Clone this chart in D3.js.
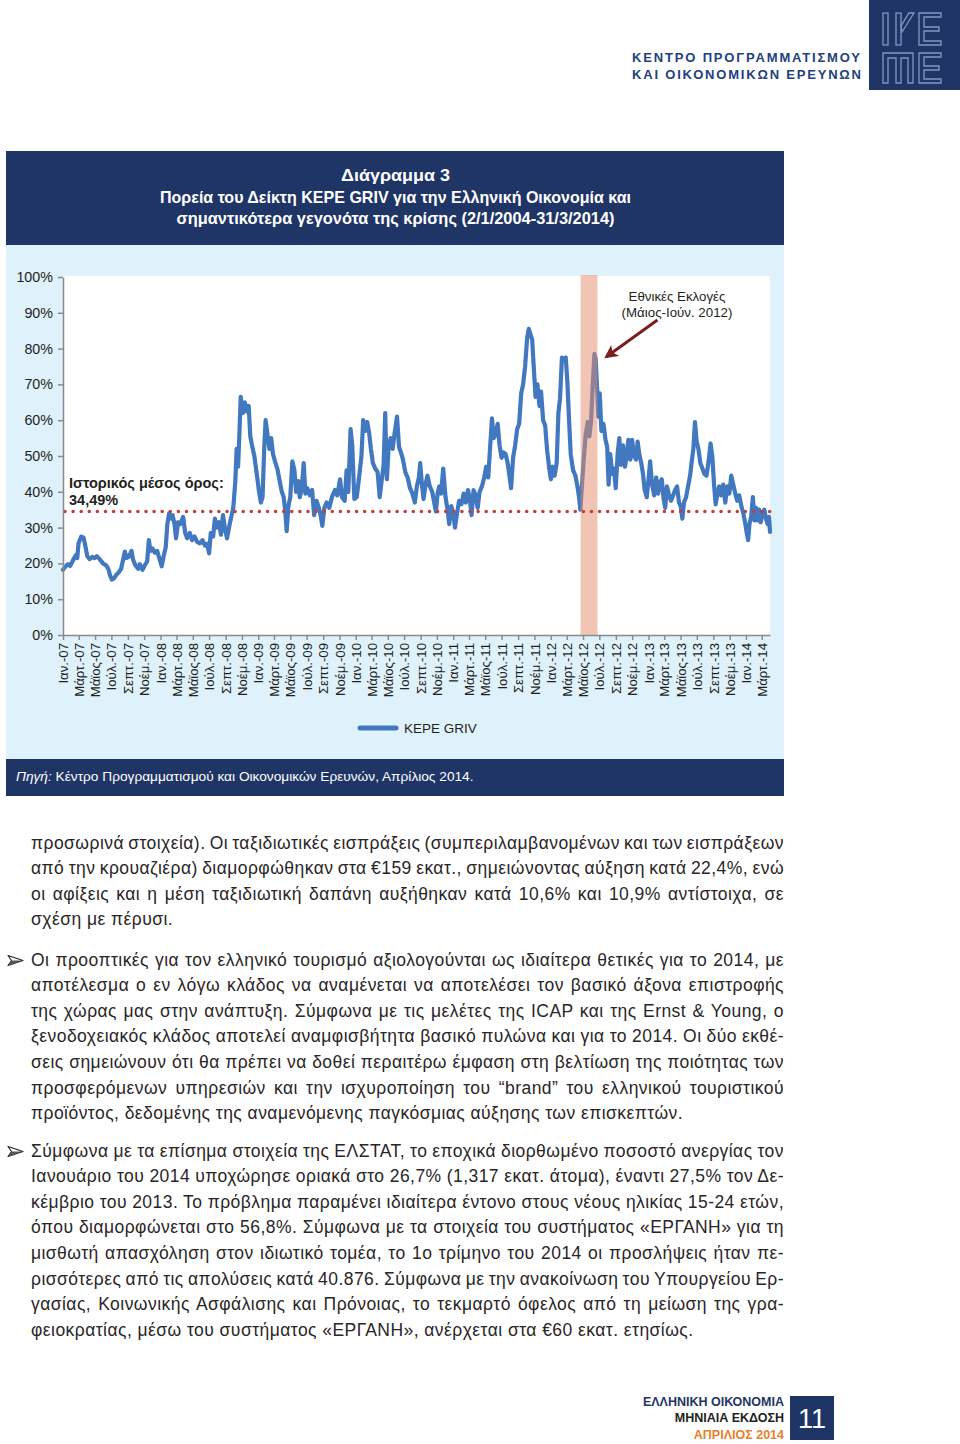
<!DOCTYPE html>
<html><head><meta charset="utf-8">
<script src="https://cdn.jsdelivr.net/npm/d3@7"></script>
<style>
body{margin:0;background:#fff}
svg{display:block}
text{font-family:"Liberation Sans",Arial,Helvetica,sans-serif}
</style>
</head><body>
<svg id="page" width="960" height="1444"></svg>
<script>
// ---------------- DATA ----------------
const seriesName = "KEPE GRIV";
const historicalMean = 34.49;
const yTicks = [0,10,20,30,40,50,60,70,80,90,100];
const monthNames = ["Ιαν.","Μάρτ.","Μάϊος","Ιούλ.","Σεπτ.","Νοέμ."];
const tickYears = ["07","08","09","10","11","12","13","14"];
const electionBand = ["2012-04-22","2012-06-24"];
// [months since 1 Jan 2007, index value %]
const grivSeries = [
[0.0,18.2],[0.25,19.0],[0.6,19.8],[0.86,19.3],[1.27,21.0],[1.6,22.3],[1.8,21.5],[1.97,25.6],[2.3,27.5],[2.58,27.2],[2.83,24.5],[3.03,22.0],[3.32,21.2],[3.65,21.8],[3.94,21.5],[4.22,22.0],[4.55,21.2],[4.96,20.0],[5.37,19.4],[5.62,18.5],[5.86,16.5],[6.07,15.5],[6.31,15.8],[6.6,16.8],[6.89,17.5],[7.18,18.5],[7.42,21.0],[7.63,23.3],[7.83,21.5],[8.12,21.9],[8.45,23.5],[8.65,21.0],[8.94,19.5],[9.27,18.5],[9.47,19.8],[9.8,18.2],[10.09,19.6],[10.37,20.5],[10.58,26.5],[10.78,23.5],[11.03,24.2],[11.32,23.0],[11.6,23.5],[11.85,21.5],[12.14,19.2],[12.38,22.0],[12.63,24.5],[12.83,31.0],[13.04,34.0],[13.28,32.5],[13.49,33.5],[13.74,31.0],[13.94,27.0],[14.19,31.5],[14.47,31.0],[14.8,33.0],[15.05,28.5],[15.29,27.0],[15.62,28.5],[15.91,26.5],[16.2,27.5],[16.52,26.0],[16.85,25.6],[17.18,26.5],[17.47,25.0],[17.75,25.5],[18.0,22.8],[18.2,28.5],[18.49,27.5],[18.7,32.5],[18.9,30.0],[19.19,31.5],[19.43,28.0],[19.68,33.5],[19.93,29.5],[20.17,27.0],[20.46,30.5],[20.7,33.0],[20.95,35.5],[21.2,43.0],[21.36,52.0],[21.53,47.0],[21.69,56.0],[21.85,66.5],[22.1,62.0],[22.35,65.0],[22.59,62.5],[22.84,64.0],[23.04,55.5],[23.29,52.5],[23.53,50.0],[23.82,45.0],[24.07,40.5],[24.31,37.0],[24.52,38.5],[24.72,52.0],[24.89,60.0],[25.13,56.0],[25.38,52.0],[25.62,55.0],[25.87,50.5],[26.12,48.5],[26.4,46.5],[26.69,43.0],[26.94,40.0],[27.18,38.5],[27.39,34.0],[27.55,29.0],[27.76,36.0],[28.0,38.5],[28.25,48.5],[28.5,46.0],[28.7,40.0],[28.95,43.0],[29.15,38.5],[29.4,41.0],[29.64,48.0],[29.85,39.5],[30.09,41.0],[30.38,39.0],[30.67,40.5],[30.91,33.5],[31.2,37.5],[31.49,35.5],[31.73,33.0],[31.9,30.5],[32.15,35.5],[32.43,37.0],
[32.76,35.5],[33.09,38.5],[33.46,40.5],[33.74,39.0],[34.07,43.5],[34.32,38.5],[34.65,37.5],[34.89,46.0],[35.1,40.0],[35.38,57.5],[35.59,52.5],[35.83,38.0],[36.12,38.5],[36.45,45.0],[36.69,50.0],[36.9,60.0],[37.18,57.0],[37.43,59.5],[37.68,56.5],[37.92,52.0],[38.17,48.0],[38.45,46.5],[38.74,45.5],[38.99,38.5],[39.23,43.0],[39.48,47.5],[39.68,62.0],[39.89,43.5],[40.09,52.0],[40.34,55.0],[40.59,52.0],[40.83,56.5],[41.12,61.0],[41.37,52.5],[41.61,51.0],[41.86,49.0],[42.15,45.5],[42.43,44.0],[42.72,41.0],[43.01,39.5],[43.3,37.0],[43.54,41.5],[43.79,44.0],[43.95,48.0],[44.16,42.0],[44.36,38.0],[44.61,42.0],[44.85,44.5],[45.14,41.5],[45.43,40.0],[45.71,36.5],[45.88,34.5],[46.08,39.5],[46.29,41.5],[46.53,39.5],[46.78,46.5],[47.07,38.5],[47.31,35.0],[47.52,31.0],[47.76,36.0],[48.01,34.0],[48.21,30.0],[48.46,34.0],[48.71,37.5],[48.99,36.5],[49.28,39.5],[49.57,37.0],[49.86,40.5],[50.1,38.0],[50.31,33.5],[50.55,40.5],[50.8,39.0],[51.05,35.5],[51.29,40.0],[51.58,41.5],[51.87,44.0],[52.11,47.0],[52.36,44.0],[52.6,53.0],[52.81,60.5],[53.01,55.0],[53.26,56.0],[53.51,59.0],[53.75,53.0],[54.0,49.5],[54.24,51.0],[54.49,50.5],[54.74,48.0],[54.98,44.0],[55.15,41.0],[55.39,49.5],[55.64,53.0],[55.88,57.5],[56.13,59.0],[56.38,67.5],[56.62,70.0],[56.87,75.0],[57.12,83.0],[57.32,85.5],[57.52,84.0],[57.73,82.5],[57.89,76.0],[58.14,66.5],[58.38,70.0],[58.63,64.0],[58.83,68.0],[59.08,60.0],[59.33,58.5],[59.57,51.5],[59.82,46.5],[60.02,43.5],[60.23,47.0],[60.47,44.5],[60.72,48.0],[60.93,62.0],
[61.13,66.0],[61.38,77.5],[61.62,77.0],[61.87,77.5],[62.07,71.0],[62.28,60.0],[62.48,50.5],[62.77,46.0],[63.05,44.5],[63.34,41.0],[63.5,38.5],[63.67,35.0],[63.87,42.0],[64.08,49.0],[64.32,56.0],[64.57,59.5],[64.77,55.5],[64.98,60.0],[65.19,70.5],[65.39,78.5],[65.55,77.0],[65.72,69.0],[65.88,61.0],[66.05,67.5],[66.25,57.0],[66.5,59.0],[66.75,54.5],[66.95,52.5],[67.12,42.0],[67.32,50.5],[67.57,45.0],[67.77,46.5],[67.98,41.0],[68.23,51.0],[68.43,55.0],[68.63,47.5],[68.88,53.0],[69.13,47.0],[69.33,50.0],[69.54,54.5],[69.78,49.0],[69.99,54.5],[70.23,50.0],[70.48,49.0],[70.68,54.0],[70.89,50.5],[71.13,48.0],[71.34,45.0],[71.54,40.5],[71.79,38.5],[71.99,43.0],[72.2,48.5],[72.44,42.0],[72.69,39.0],[72.94,44.0],[73.18,39.5],[73.43,42.5],[73.67,43.5],[73.92,38.0],[74.12,35.5],[74.33,41.5],[74.58,39.0],[74.82,37.5],[75.07,39.0],[75.32,40.5],[75.57,41.5],[75.81,37.0],[76.02,36.0],[76.22,32.5],[76.42,37.0],[76.67,38.5],[76.91,41.5],[77.16,44.5],[77.37,48.5],[77.57,52.0],[77.77,59.5],[77.98,54.0],[78.19,52.0],[78.43,48.0],[78.68,46.5],[78.92,45.0],[79.17,44.5],[79.42,48.5],[79.66,53.5],[79.87,50.0],[80.07,42.5],[80.28,36.5],[80.48,39.0],[80.73,41.5],[80.97,39.0],[81.22,42.0],[81.47,37.0],[81.71,41.5],[81.96,39.5],[82.2,44.5],[82.45,42.0],[82.7,39.5],[82.94,37.5],[83.19,39.0],[83.44,36.0],[83.68,34.0],[83.89,31.5],[84.09,28.5],[84.26,26.5],[84.42,31.0],[84.63,33.0],[84.83,38.5],[85.04,32.0],[85.24,35.5],[85.45,32.0],[85.65,35.0],[85.86,31.5],[86.06,33.5],[86.31,35.0],[86.51,32.5],[86.72,31.0],[86.88,33.0],[87.0,28.8]
];

const titleLines = ["Διάγραμμα 3","Πορεία του Δείκτη ΚΕΡΕ GRIV για την Ελληνική Οικονομία και","σημαντικότερα γεγονότα της κρίσης (2/1/2004-31/3/2014)"];
const meanLabel = ["Ιστορικός μέσος όρος:","34,49%"];
const electionLabel = ["Εθνικές Εκλογές","(Μάιος-Ιούν. 2012)"];
const bodyParagraphs = [
 {bullet:false, lines:[
  "προσωρινά στοιχεία). Οι ταξιδιωτικές εισπράξεις (συμπεριλαμβανομένων και των εισπράξεων",
  "από την κρουαζιέρα) διαμορφώθηκαν στα €159 εκατ., σημειώνοντας αύξηση κατά 22,4%, ενώ",
  "οι αφίξεις και η μέση ταξιδιωτική δαπάνη αυξήθηκαν κατά 10,6% και 10,9% αντίστοιχα, σε",
  "σχέση με πέρυσι."]},
 {bullet:true, lines:[
  "Οι προοπτικές για τον ελληνικό τουρισμό αξιολογούνται ως ιδιαίτερα θετικές για το 2014, με",
  "αποτέλεσμα ο εν λόγω κλάδος να αναμένεται να αποτελέσει τον βασικό άξονα επιστροφής",
  "της χώρας μας στην ανάπτυξη. Σύμφωνα με τις μελέτες της ICAP και της Ernst & Young, ο",
  "ξενοδοχειακός κλάδος αποτελεί αναμφισβήτητα βασικό πυλώνα και για το 2014. Οι δύο εκθέ-",
  "σεις σημειώνουν ότι θα πρέπει να δοθεί περαιτέρω έμφαση στη βελτίωση της ποιότητας των",
  "προσφερόμενων υπηρεσιών και την ισχυροποίηση του “brand” του ελληνικού τουριστικού",
  "προϊόντος, δεδομένης της αναμενόμενης παγκόσμιας αύξησης των επισκεπτών."]},
 {bullet:true, lines:[
  "Σύμφωνα με τα επίσημα στοιχεία της ΕΛΣΤΑΤ, το εποχικά διορθωμένο ποσοστό ανεργίας τον",
  "Ιανουάριο του 2014 υποχώρησε οριακά στο 26,7% (1,317 εκατ. άτομα), έναντι 27,5% τον Δε-",
  "κέμβριο του 2013. Το πρόβλημα παραμένει ιδιαίτερα έντονο στους νέους ηλικίας 15-24 ετών,",
  "όπου διαμορφώνεται στο 56,8%. Σύμφωνα με τα στοιχεία του συστήματος «ΕΡΓΑΝΗ» για τη",
  "μισθωτή απασχόληση στον ιδιωτικό τομέα, το 1ο τρίμηνο του 2014 οι προσλήψεις ήταν πε-",
  "ρισσότερες από τις απολύσεις κατά 40.876. Σύμφωνα με την ανακοίνωση του Υπουργείου Ερ-",
  "γασίας, Κοινωνικής Ασφάλισης και Πρόνοιας, το τεκμαρτό όφελος από τη μείωση της γρα-",
  "φειοκρατίας, μέσω του συστήματος «ΕΡΓΑΝΗ», ανέρχεται στα €60 εκατ. ετησίως."]}
];

// ---------------- STYLE ----------------
const NAVY = "#1f3566", LIGHT = "#dff1fb", LINE = "#4178c0", TXT = "#231f20";

const svg = d3.select("#page");
svg.append("rect").attr("width",960).attr("height",1444).attr("fill","#fff");

// ---------- header ----------
const hdr = svg.append("g");
hdr.append("text").attr("x",632).attr("y",62).attr("fill","#234080").attr("font-weight","bold")
  .attr("font-size",13).attr("textLength",228).attr("lengthAdjust","spacing").text("ΚΕΝΤΡΟ ΠΡΟΓΡΑΜΜΑΤΙΣΜΟΥ");
hdr.append("text").attr("x",632).attr("y",79).attr("fill","#234080").attr("font-weight","bold")
  .attr("font-size",13).attr("textLength",229).attr("lengthAdjust","spacing").text("ΚΑΙ ΟΙΚΟΝΟΜΙΚΩΝ ΕΡΕΥΝΩΝ");
const logo = hdr.append("g").attr("transform","translate(869,0)");
logo.append("rect").attr("width",91).attr("height",90).attr("fill",NAVY);
const lg = logo.append("g").attr("fill","none").attr("stroke","#8496c4").attr("stroke-width",1.3);
lg.append("rect").attr("x",14).attr("y",13).attr("width",5).attr("height",32);
lg.append("rect").attr("x",27).attr("y",13).attr("width",5).attr("height",32);
lg.append("path").attr("d","M40,13 L45,13 L33,32 L32,26 Z");
lg.append("path").attr("d","M50,13 H72 V17 H55 V27 H70 V31 H55 V41 H72 V45 H50 Z");
lg.append("path").attr("d","M14,53 H44 V83 H39 V58 H32 V83 H27 V58 H19 V83 H14 Z");
lg.append("path").attr("d","M50,53 H72 V57 H55 V66 H70 V70 H55 V79 H72 V83 H50 Z");

// ---------- title box ----------
svg.append("rect").attr("x",6).attr("y",151).attr("width",778).attr("height",94).attr("fill",NAVY);
const tl = [[titleLines[0],181,109],[titleLines[1],202.5,471],[titleLines[2],223.5,438]];
tl.forEach(([t,y,w])=>{
  svg.append("text").attr("x",395.5).attr("y",y).attr("text-anchor","middle").attr("fill","#fff")
    .attr("font-weight","bold").attr("font-size",16.2).attr("textLength",w).attr("lengthAdjust","spacingAndGlyphs").text(t);
});

// ---------- chart panel ----------
svg.append("rect").attr("x",6).attr("y",245).attr("width",778).attr("height",514).attr("fill",LIGHT);

const x0 = 63, x1 = 770, yTop = 277, yBot = 635;
const monthToDate = m => { const fm = Math.floor(m); const d0 = new Date(2007, fm, 1), d1 = new Date(2007, fm+1, 1); return new Date(+d0 + (m-fm)*(d1-d0)); };
const x = d3.scaleTime().domain([new Date(2007,0,1), new Date(2014,3,1)]).range([x0,x1]);
const y = d3.scaleLinear().domain([0,100]).range([yBot,yTop]);

svg.append("rect").attr("x",x0).attr("y",yTop-1).attr("width",x1-x0).attr("height",yBot-yTop+1).attr("fill","#fff");

const data = grivSeries.map(([m,v])=>({date:monthToDate(m), v}));
svg.append("path").datum(data).attr("fill","none").attr("stroke",LINE).attr("stroke-width",4.2)
  .attr("stroke-linejoin","round").attr("stroke-linecap","round")
  .attr("d", d3.line().x(d=>x(d.date)).y(d=>y(d.v)));

const pd = d3.timeParse("%Y-%m-%d");
svg.append("rect").attr("x",x(pd(electionBand[0]))).attr("y",yTop-2)
  .attr("width",x(pd(electionBand[1]))-x(pd(electionBand[0]))).attr("height",yBot-yTop+2)
  .attr("fill","#e5896a").attr("opacity",0.5);

svg.append("line").attr("x1",x0+2).attr("x2",x1).attr("y1",y(historicalMean)).attr("y2",y(historicalMean))
  .attr("stroke","#c0403c").attr("stroke-width",3.6).attr("stroke-linecap","round").attr("stroke-dasharray","0 8.1");

const yAxis = d3.axisLeft(y).tickValues(yTicks).tickFormat(d=>d+"%").tickSize(5).tickSizeOuter(0).tickPadding(5);
const gy = svg.append("g").attr("transform",`translate(${x0},0)`).call(yAxis);
gy.selectAll("path,line").attr("stroke","#8a8a8a").attr("stroke-width",1.5);
gy.selectAll("text").attr("font-size",14.3).attr("fill",TXT).attr("font-family","Liberation Sans, Arial, sans-serif");

const tickDates = [], tickLabels = [];
tickYears.forEach((yy,i)=>{ monthNames.forEach((mn,j)=>{ const d = new Date(2007+i, j*2, 1); if (d <= new Date(2014,2,1)) { tickDates.push(d); tickLabels.push(mn+"-"+yy); } }); });
const xAxis = d3.axisBottom(x).tickValues(tickDates).tickFormat((d,i)=>tickLabels[i]).tickSize(5).tickSizeOuter(0);
const gx = svg.append("g").attr("transform",`translate(0,${yBot})`).call(xAxis);
gx.selectAll("path,line").attr("stroke","#8a8a8a").attr("stroke-width",1.5);
gx.selectAll("text").attr("font-size",13.2).attr("fill",TXT).attr("font-family","Liberation Sans, Arial, sans-serif")
  .attr("transform","rotate(-90)").attr("x",-8).attr("y",0).attr("dy","0.35em").attr("text-anchor","end");

svg.append("text").attr("x",69).attr("y",488).attr("font-weight","bold").attr("font-size",14.5).attr("fill",TXT).text(meanLabel[0]);
svg.append("text").attr("x",69).attr("y",505).attr("font-weight","bold").attr("font-size",14.5).attr("fill",TXT).text(meanLabel[1]);

const peak = data.filter(d=>d.date>=pd(electionBand[0]) && d.date<=pd(electionBand[1])).reduce((a,b)=>b.v>a.v?b:a);
const tip = [x(peak.date)+9, y(peak.v)+5];
const tail = [tip[0]+54, tip[1]-39];
svg.append("defs").append("marker").attr("id","ah").attr("viewBox","0 0 10 10").attr("refX",8).attr("refY",5)
  .attr("markerWidth",4.5).attr("markerHeight",4.5).attr("orient","auto-start-reverse")
  .append("path").attr("d","M0,0 L10,5 L0,10 L2.5,5 Z").attr("fill","#7a1e1e");
svg.append("line").attr("x1",tail[0]).attr("y1",tail[1]).attr("x2",tip[0]+3).attr("y2",tip[1]-2.2)
  .attr("stroke","#7a1e1e").attr("stroke-width",3).attr("marker-end","url(#ah)");
svg.append("text").attr("x",677).attr("y",300.5).attr("text-anchor","middle").attr("font-size",13.3).attr("fill",TXT).text(electionLabel[0]);
svg.append("text").attr("x",677).attr("y",316.5).attr("text-anchor","middle").attr("font-size",13.3).attr("fill",TXT).text(electionLabel[1]);

svg.append("line").attr("x1",360).attr("x2",396).attr("y1",728).attr("y2",728).attr("stroke",LINE).attr("stroke-width",5).attr("stroke-linecap","round");
svg.append("text").attr("x",404).attr("y",733).attr("font-size",13.5).attr("fill",TXT).text(seriesName);

svg.append("rect").attr("x",6).attr("y",759).attr("width",778).attr("height",37).attr("fill",NAVY);
const src = svg.append("text").attr("x",16).attr("y",781).attr("font-size",13.7).attr("fill","#fff");
src.append("tspan").attr("font-style","italic").text("Πηγή:");
src.append("tspan").text(" Κέντρο Προγραμματισμού και Οικονομικών Ερευνών, Απρίλιος 2014.");

// ---------- body text ----------
const starts = [848.5, 965.5, 1156.5], lh = 25.65, left = 31, right = 784;
bodyParagraphs.forEach((p,pi)=>{
  if (p.bullet) {
    const by = starts[pi]-5;
    svg.append("path").attr("d",`M8,${by-5} L23,${by} L8,${by+5} L11.5,${by} Z`)
      .attr("fill","#fff").attr("stroke","#231f20").attr("stroke-width",1.1).attr("stroke-linejoin","round");
    svg.append("path").attr("d",`M11.5,${by} L23,${by} L8,${by+5} Z`).attr("fill","#555");
  }
  p.lines.forEach((ln,li)=>{
    const t = svg.append("text").attr("x",left).attr("y",starts[pi]+li*lh).attr("font-size",17.5)
      .attr("letter-spacing","0.45px").attr("fill","#2a2627").text(ln);
    if (li < p.lines.length-1) {
      const n = (ln.match(/ /g)||[]).length;
      if (n) {
        let ws = 0;
        for (let k=0;k<3;k++){ const w = t.node().getBBox().width; ws += (right-left-w)/n; t.style("word-spacing", ws+"px"); }
      }
    }
  });
});

// ---------- footer ----------
const ft = [["ΕΛΛΗΝΙΚΗ ΟΙΚΟΝΟΜΙΑ",1406,NAVY],["ΜΗΝΙΑΙΑ ΕΚΔΟΣΗ",1422,TXT],["ΑΠΡΙΛΙΟΣ 2014",1439,"#e5802c"]];
ft.forEach(([t,yy,c])=>svg.append("text").attr("x",784).attr("y",yy).attr("text-anchor","end").attr("font-weight","bold")
  .attr("font-size",12.5).attr("fill",c).text(t));
svg.append("rect").attr("x",790).attr("y",1396).attr("width",44).attr("height",44).attr("fill",NAVY);
svg.append("text").attr("x",812).attr("y",1428).attr("text-anchor","middle").attr("font-size",27).attr("fill","#fff").text("11");
</script>
</body></html>
